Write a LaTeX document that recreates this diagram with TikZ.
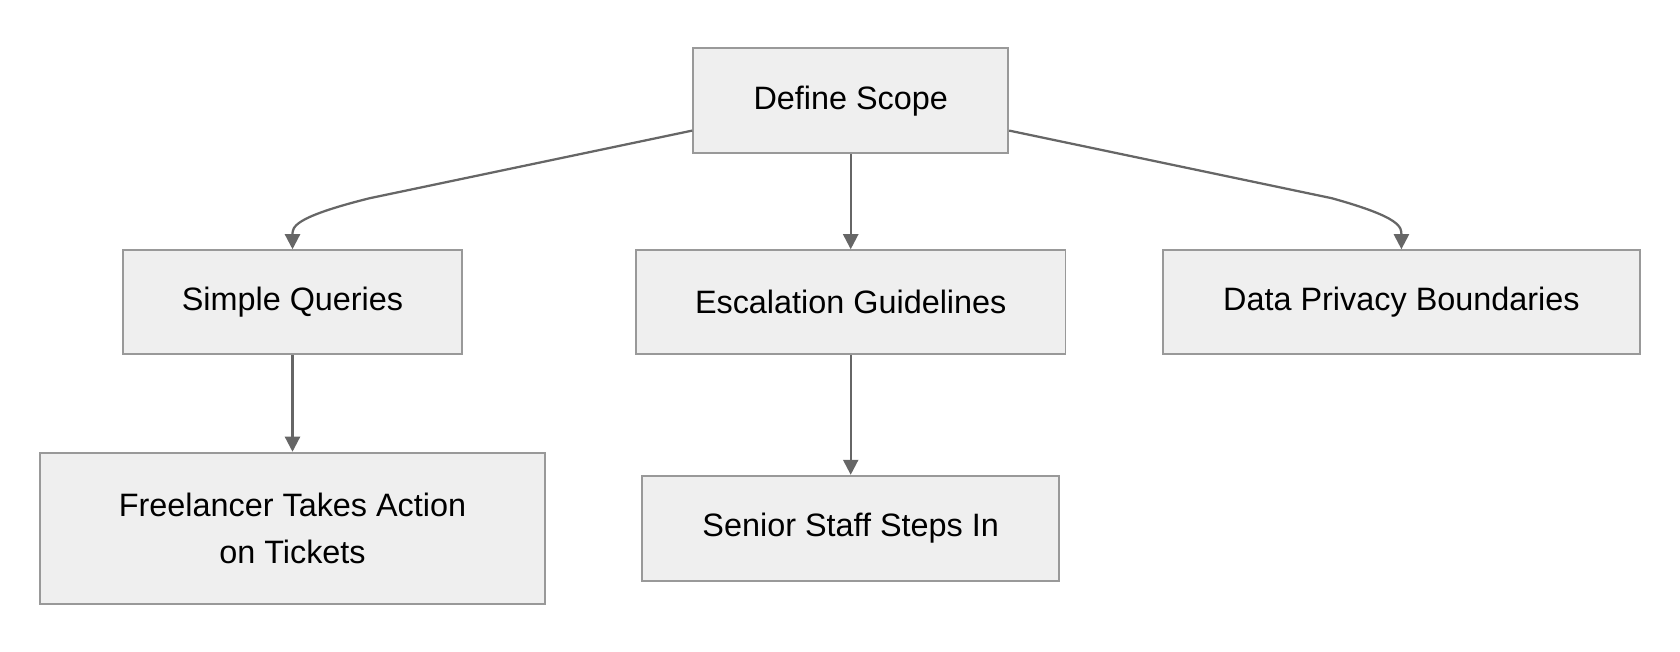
\documentclass[tikz,border=0pt]{standalone}
\usepackage{fontspec}
\setmainfont{Liberation Sans}
\usetikzlibrary{arrows.meta}
\definecolor{boxfill}{HTML}{EFEFEF}
\definecolor{boxline}{HTML}{999999}
\definecolor{arrowc}{HTML}{666666}
\tikzset{
  stage/.style={draw=boxline, fill=boxfill, line width=0.5pt, inner sep=0pt,
    font=\fontsize{8.6}{12.5}\selectfont, align=center},
  flow/.style={draw=arrowc, line width=0.6pt, -{Triangle[length=1.4mm,width=1.4mm]}}
}
\begin{document}
\begin{tikzpicture}[x=0.1mm, y=-0.1mm]
        \useasboundingbox (0,0) rectangle (1568,608);
        % boxes
        \node [stage, minimum width=29.4mm, minimum height=9.8mm] (scope)  at (794,94)  {Define Scope};
        \node [stage, minimum width=31.6mm, minimum height=9.7mm] (simple) at (273,282) {Simple Queries};
        \node [stage, minimum width=40.1mm, minimum height=9.7mm] (escal)  at (794,282) {Escalation Guidelines};
        \node [stage, minimum width=44.5mm, minimum height=9.7mm] (privacy) at (1308,282) {Data Privacy Boundaries};
        \node [stage, minimum width=47.2mm, minimum height=14.1mm] (free)  at (273,493) {Freelancer Takes Action\\on Tickets};
        \node [stage, minimum width=38.9mm, minimum height=9.8mm] (senior) at (794,493) {Senior Staff Steps In};
        % side exits of the top box
        \coordinate (scopeL) at ([yshift=2.2mm]scope.south west);
        \coordinate (scopeR) at ([yshift=2.2mm]scope.south east);
        \coordinate (bendL)  at (345,185);
        \coordinate (bendR)  at (1243,185);
        % connectors
        \draw [flow] (scopeL) -- (bendL) .. controls (273,203) and (273,212) .. (simple.north);
        \draw [flow] (scopeR) -- (bendR) .. controls (1308,203) and (1308,212) .. (privacy.north);
        \draw [flow] (scope)  -- (escal);
        \draw [flow] (simple) -- (free);
        \draw [flow] (escal)  -- (senior);
\end{tikzpicture}
\end{document}
